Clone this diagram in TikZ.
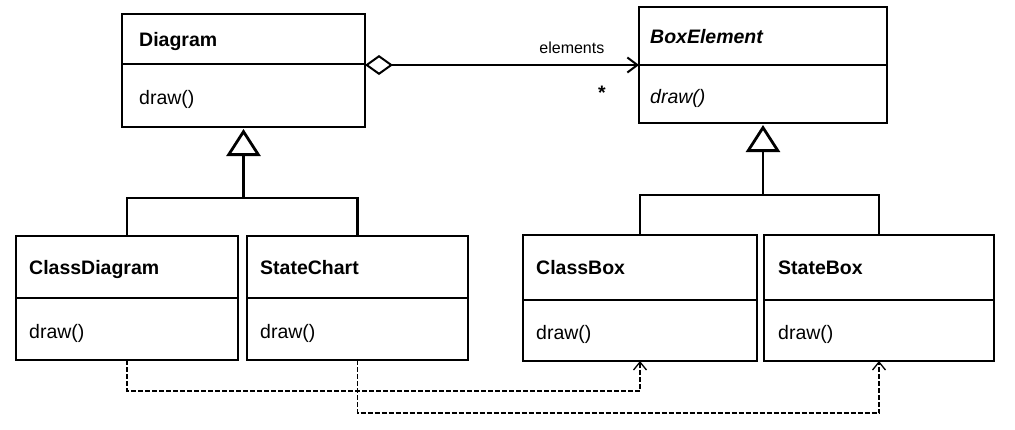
\documentclass[tikz,border=0pt]{standalone}
\usepackage{fontspec}
\setmainfont{Liberation Sans}
\usetikzlibrary{arrows.meta}
\newcommand\umlcls[9]{%
  \node[clsbox, minimum width={#4-#2}, minimum height={#5-#3}] (#1) at ({(#2+#4)/2},{(#3+#5)/2}) {};
  \draw[clsline] (#1.west |- 0,#6) -- (#1.east |- 0,#6);
  \node[clstext, anchor=base west] (#1-title) at ({#2+#9},{(#3+#6)/2+7}) {#7};
  \node[clstext, anchor=base west] (#1-op) at ({#2+#9},{(#6+#5)/2+9}) {#8};
}
\begin{document}
\begin{tikzpicture}[x=1pt,y=-1pt,
  clsbox/.style={draw=black, line width=1.3pt, inner sep=0pt, outer sep=0pt, rectangle},
  clsline/.style={draw=black, line width=1.3pt},
  clstext/.style={font=\fontsize{19.5}{23}\selectfont, inner sep=0pt},
  genline/.style={draw=black, line width=2.8pt},
  gentip/.style={-{Triangle[open, length=27pt, width=34pt]}, shorten >=2pt},
  aggline/.style={draw=black, line width=2pt},
  depline/.style={draw=black, line width=1.3pt, dash pattern=on 5pt off 2pt, -{Straight Barb[length=8pt, width=13pt]}},
  smalltext/.style={font=\fontsize{16}{19}\selectfont, inner sep=0pt}]
\useasboundingbox (0,0) rectangle (1015,429);
\umlcls{diag}{122}{14}{365}{127}{64}{\textbf{Diagram}}{draw()}{17}
\umlcls{boxel}{639}{7}{887}{123}{65}{\textbf{\textit{BoxElement}}}{\textit{draw()}}{11}
\umlcls{cdiag}{16}{236}{238}{360}{298}{\textbf{ClassDiagram}}{draw()}{13}
\umlcls{schart}{247}{236}{468}{360}{298}{\textbf{StateChart}}{draw()}{13}
\umlcls{cbox}{523}{235}{757}{361}{300}{\textbf{ClassBox}}{draw()}{13}
\umlcls{sbox}{764}{235}{994}{361}{300}{\textbf{StateBox}}{draw()}{14}
% generalizations
\coordinate (jl) at (diag.south |- 0,198);
\draw[genline] (cdiag.north) |- (jl) -| (schart.north);
\draw[genline, gentip] (jl) -- (diag.south);
\coordinate (jr) at (boxel.south |- 0,195);
\draw[genline] (cbox.north) |- (jr) -| (sbox.north);
\draw[genline, gentip] (jr) -- (boxel.south);
% aggregation
\draw[aggline, {Diamond[open, length=28pt, width=20pt]}-{Straight Barb[length=10pt, width=15pt]}]
  (diag.east |- boxel.west) -- node[smalltext, pos=0.755, yshift=17pt] (elab) {elements}
  node[font=\fontsize{19.5}{23}\selectfont\bfseries, inner sep=0pt, pos=0.865, yshift=-28pt] (mult) {*} (boxel.west);
% dependencies
\draw[depline] (cdiag.south) -- ++(0,31) -| (cbox.south);
\draw[depline] (schart.south) -- ++(0,53) -| (sbox.south);
\end{tikzpicture}
\end{document}
